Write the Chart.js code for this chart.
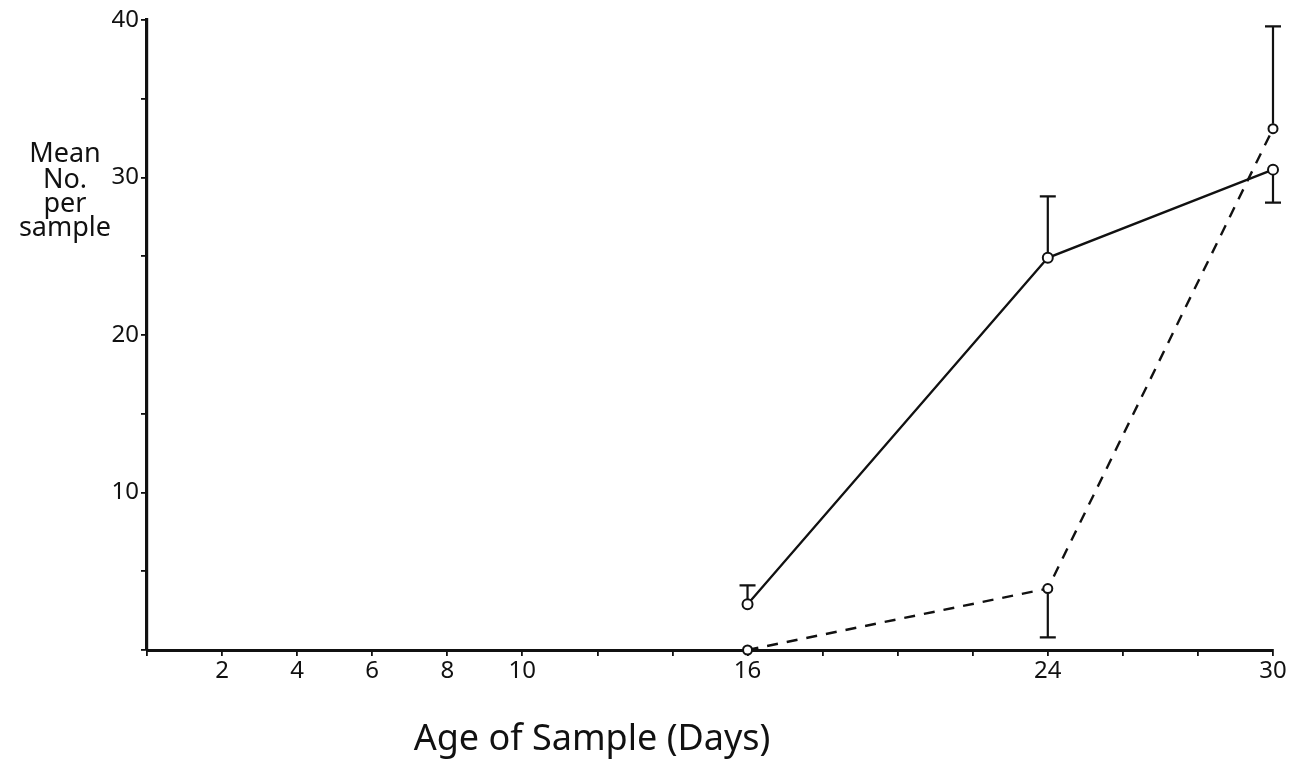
<!DOCTYPE html>
<html>
<head>
<meta charset="utf-8">
<script src="https://cdn.jsdelivr.net/npm/chart.js@4"></script>
<style>
  html, body { margin: 0; padding: 0; background: #fff; }
  #chart { display: block; }
</style>
</head>
<body>
<canvas id="chart" width="1300" height="767"></canvas>
<script>
const days = [16, 24, 30];
const solidMean = [2.9, 24.9, 30.5];
const solidErrEnd = [4.1, 28.8, 28.4];
const dashedMean = [0, 3.9, 33.1];
const dashedErrEnd = [null, 0.8, 39.6];
const xTickLabels = [2, 4, 6, 8, 10, 16, 24, 30];
const yTickLabels = [10, 20, 30, 40];
const yTitleLines = ['Mean', 'No.', 'per', 'sample'];
const xTitle = 'Age of Sample (Days)';

const FONT = '"Noto Sans", sans-serif';

function toPoints(xs, ys) {
  return xs.map((x, i) => ({ x, y: ys[i] }));
}

// error bars drawn from the data arrays through the scales
const errorBars = {
  id: 'errorBars',
  afterDatasetsDraw(chart) {
    const { ctx, scales: { x, y } } = chart;
    const sets = [[solidMean, solidErrEnd], [dashedMean, dashedErrEnd]];
    ctx.save();
    ctx.strokeStyle = '#111';
    ctx.lineWidth = 2.2;
    ctx.setLineDash([]);
    sets.forEach(([means, ends]) => {
      days.forEach((d, i) => {
        if (ends[i] == null) return;
        const px = x.getPixelForValue(d);
        const y0 = y.getPixelForValue(means[i]);
        const y1 = y.getPixelForValue(ends[i]);
        const off = y1 < y0 ? -5 : 5;
        ctx.beginPath();
        ctx.moveTo(px, y0 + off);
        ctx.lineTo(px, y1);
        ctx.moveTo(px - 8, y1);
        ctx.lineTo(px + 8, y1);
        ctx.stroke();
      });
    });
    ctx.restore();
  }
};

const titles = {
  id: 'titles',
  afterDraw(chart) {
    const { ctx } = chart;
    ctx.save();
    ctx.fillStyle = '#111';
    ctx.textAlign = 'center';
    ctx.textBaseline = 'middle';
    ctx.font = '27px ' + FONT;
    const lineY = [154, 180, 204, 228];
    yTitleLines.forEach((t, i) => ctx.fillText(t, 65, lineY[i]));
    ctx.font = '36px ' + FONT;
    ctx.fillText(xTitle, 592, 740);
    ctx.restore();
  }
};

new Chart(document.getElementById('chart'), {
  type: 'scatter',
  data: {
    datasets: [
      {
        label: 'solid',
        data: toPoints(days, solidMean),
        showLine: true,
        clip: false,
        borderColor: '#111',
        borderWidth: 2.3,
        pointRadius: 5,
        pointBorderWidth: 2,
        pointBackgroundColor: '#fff',
        pointBorderColor: '#111'
      },
      {
        label: 'dashed',
        data: toPoints(days, dashedMean),
        showLine: true,
        clip: false,
        borderColor: '#111',
        borderWidth: 2.4,
        borderDash: [11, 9],
        pointRadius: 4.5,
        pointBorderWidth: 2,
        pointBackgroundColor: '#fff',
        pointBorderColor: '#111'
      }
    ]
  },
  options: {
    responsive: false,
    animation: false,
    layout: { padding: { top: 20, right: 27, left: 0, bottom: 0 } },
    plugins: { legend: { display: false }, tooltip: { enabled: false } },
    scales: {
      x: {
        type: 'linear',
        min: 0,
        max: 30,
        afterFit: s => { s.height = 117; },
        border: { display: true, color: '#111', width: 3 },
        grid: { drawOnChartArea: false, drawTicks: true, tickLength: 6, color: '#111', lineWidth: 1.8 },
        ticks: {
          stepSize: 2,
          autoSkip: false,
          maxRotation: 0,
          color: '#111',
          padding: 1,
          font: { family: FONT, size: 24 },
          callback: v => xTickLabels.includes(v) ? String(v) : ''
        }
      },
      y: {
        type: 'linear',
        min: 0,
        max: 40,
        afterFit: s => { s.width = 147; },
        border: { display: true, color: '#111', width: 3.2 },
        grid: { drawOnChartArea: false, drawTicks: true, tickLength: 6, color: '#111', lineWidth: 1.8 },
        ticks: {
          stepSize: 5,
          autoSkip: false,
          color: '#111',
          padding: 2,
          font: { family: FONT, size: 24 },
          callback: v => yTickLabels.includes(v) ? String(v) : ''
        }
      }
    }
  },
  plugins: [errorBars, titles]
});
</script>
</body>
</html>
